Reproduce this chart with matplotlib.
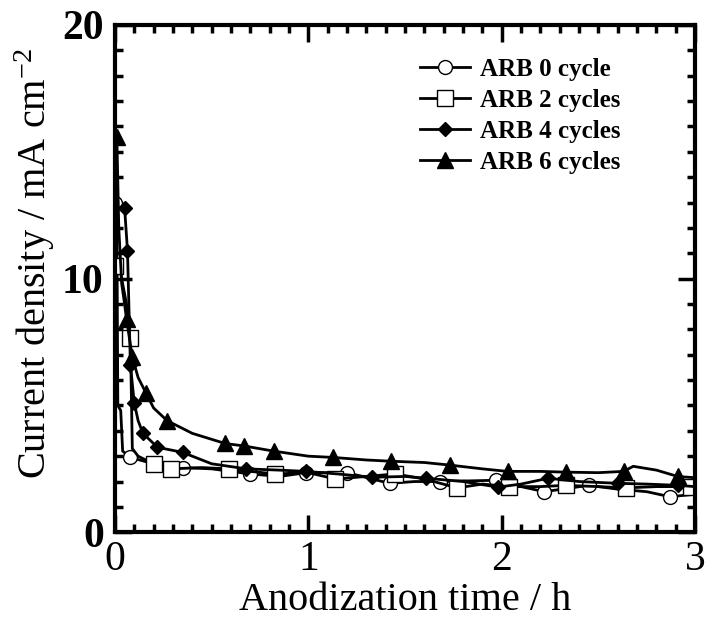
import matplotlib
matplotlib.use("Agg")
import matplotlib.pyplot as plt
from matplotlib.ticker import MultipleLocator

plt.rcParams['font.family'] = ['Liberation Serif', 'DejaVu Serif']
plt.rcParams['mathtext.default'] = 'regular'

labels = ["ARB 0 cycle", "ARB 2 cycles", "ARB 4 cycles", "ARB 6 cycles"]

t0 = [0.0, 0.01, 0.015, 0.03, 0.04, 0.08, 0.2, 0.35, 0.5, 0.7, 0.85, 0.99, 1.2, 1.42, 1.55, 1.68, 1.97, 2.1, 2.22, 2.45, 2.6, 2.75, 2.87, 3.0]
j0 = [13.0, 12.5, 5.0, 4.8, 3.2, 2.95, 2.7, 2.55, 2.5, 2.3, 2.2, 2.35, 2.35, 1.93, 2.0, 2.0, 2.05, 1.8, 1.6, 1.85, 1.7, 1.6, 1.4, 1.5]
m0 = [0, 5, 7, 9, 11, 12, 13, 15, 16, 18, 19, 22]

t2 = [0.0, 0.03, 0.06, 0.08, 0.09, 0.12, 0.2, 0.29, 0.45, 0.59, 0.7, 0.83, 1.0, 1.14, 1.3, 1.45, 1.6, 1.77, 1.9, 2.04, 2.2, 2.33, 2.5, 2.64, 2.8, 2.98]
j2 = [10.5, 10.2, 9.0, 7.65, 3.3, 3.0, 2.7, 2.5, 2.55, 2.5, 2.4, 2.3, 2.35, 2.1, 2.2, 2.3, 2.1, 1.75, 1.9, 1.8, 1.8, 1.85, 1.8, 1.75, 1.8, 1.8]
m2 = [0, 3, 6, 7, 9, 11, 13, 15, 17, 19, 21, 23, 25]

t4 = [0.03, 0.05, 0.065, 0.08, 0.1, 0.12, 0.145, 0.22, 0.35, 0.5, 0.68, 0.85, 0.99, 1.15, 1.33, 1.5, 1.61, 1.8, 1.98, 2.1, 2.24, 2.4, 2.6, 2.75, 2.91, 3.0]
j4 = [12.8, 12.8, 11.1, 6.6, 5.1, 4.4, 3.9, 3.35, 3.15, 2.7, 2.5, 2.45, 2.4, 2.3, 2.17, 2.2, 2.13, 2.0, 1.78, 1.9, 2.13, 2.0, 1.93, 1.9, 1.85, 1.8]
m4 = [1, 2, 3, 4, 6, 7, 8, 10, 12, 14, 16, 18, 20, 22, 24]

t6 = [0.01, 0.02, 0.035, 0.05, 0.06, 0.09, 0.12, 0.16, 0.2, 0.27, 0.4, 0.57, 0.67, 0.82, 1.0, 1.13, 1.3, 1.43, 1.6, 1.73, 1.9, 2.03, 2.2, 2.33, 2.5, 2.63, 2.68, 2.8, 2.91, 3.0]
j6 = [15.6, 12.0, 9.8, 9.0, 8.4, 6.9, 6.1, 5.5, 4.9, 4.4, 3.9, 3.5, 3.4, 3.2, 3.0, 2.95, 2.85, 2.8, 2.75, 2.65, 2.5, 2.4, 2.4, 2.37, 2.35, 2.4, 2.6, 2.45, 2.2, 2.15]
m6 = [0, 4, 5, 7, 9, 11, 12, 13, 15, 17, 19, 21, 23, 25, 28]

fig = plt.figure(figsize=(7.05, 6.24), dpi=100)
ax = fig.add_axes([0.163, 0.147, 0.823, 0.813])

kw = dict(color='black', lw=2.0, markeredgecolor='black', markeredgewidth=1.0)
ax.plot(t0, j0, marker='o', markersize=10, markerfacecolor='white', markevery=m0, label=labels[0], **kw)
ax.plot(t2, j2, marker='s', markersize=11, markerfacecolor='white', markevery=m2, label=labels[1], **kw)
ax.plot(t4, j4, marker='D', markersize=7.5, markerfacecolor='black', markevery=m4, label=labels[2], **kw)
ax.plot(t6, j6, marker='^', markersize=11, markerfacecolor='black', markevery=m6, label=labels[3], **kw)

ax.set_xlim(0, 3)
ax.set_ylim(0, 20)
ax.xaxis.set_major_locator(MultipleLocator(1))
ax.xaxis.set_minor_locator(MultipleLocator(0.1))
ax.yaxis.set_major_locator(MultipleLocator(10))
ax.yaxis.set_minor_locator(MultipleLocator(1))

for s in ax.spines.values():
    s.set_linewidth(3)
ax.tick_params(which='both', direction='in', top=True, right=True, width=2.5)
ax.tick_params(which='major', length=12)
ax.tick_params(which='minor', length=6)
ax.tick_params(axis='x', labelsize=30, pad=6)
ax.tick_params(axis='y', labelsize=30, pad=8)
for lab in ax.get_yticklabels():
    lab.set_fontweight('bold')

ax.set_xlabel('Anodization time / h', fontsize=29, labelpad=2)
ax.set_ylabel('Current density / mA cm$^{-2}$', fontsize=29, labelpad=2)
ax.yaxis.set_label_coords(-0.1, 0.53)

leg = ax.legend(loc='upper right', bbox_to_anchor=(0.91, 0.98), frameon=False,
                prop={'size': 18, 'weight': 'bold'}, handlelength=2.0,
                handletextpad=0.4, labelspacing=0.32)

fig.savefig('out.png', dpi=100)
